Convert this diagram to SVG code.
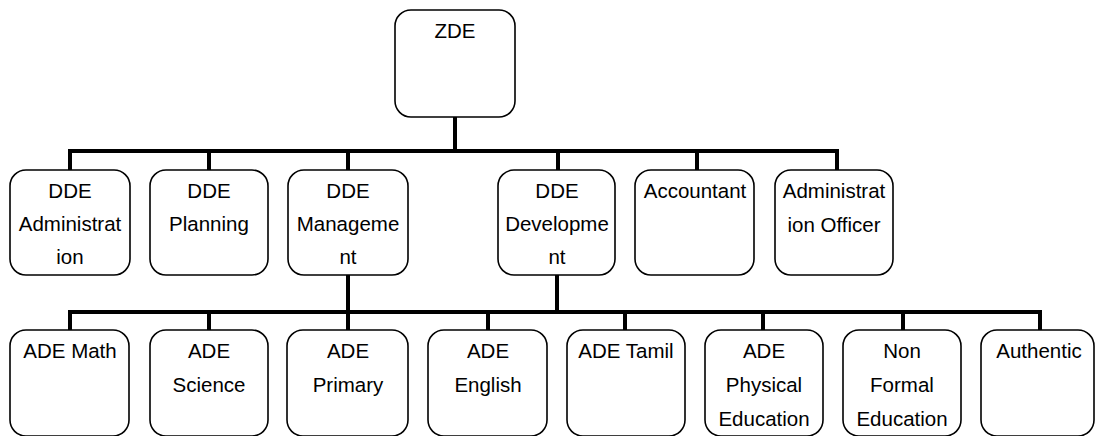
<svg xmlns="http://www.w3.org/2000/svg" width="1096" height="436" viewBox="0 0 1096 436">
<style>
.box{fill:#fff;stroke:#000;stroke-width:1.6}
.t{font-family:"Liberation Sans",Arial,sans-serif;font-size:20.5px;fill:#000;text-anchor:middle}
.c{fill:none;stroke:#000;stroke-width:4;stroke-linecap:square}
</style>
<rect width="1096" height="436" fill="#fff"/>
<g id="connectors">
<path class="c" d="M455 117V151M70 170V151H837V170M209 151V170M348 151V170M558 151V170M697 151V170"/>
<path class="c" d="M348 275V312M557 275V312M70 330V312H1040V330M209 312V330M348 312V330M488 312V330M625 312V330M763 312V330M903 312V330"/>
</g>
<g id="zde"><rect class="box" x="395" y="10" width="120" height="107" rx="16"/><text class="t" x="455" y="38">ZDE</text></g>
<g id="dde-admin"><rect class="box" x="10" y="170" width="120" height="105" rx="16"/><text class="t" x="70" y="198">DDE</text><text class="t" x="70" y="231">Administrat</text><text class="t" x="70" y="264">ion</text></g>
<g id="dde-planning"><rect class="box" x="150" y="170" width="118" height="105" rx="16"/><text class="t" x="209" y="198">DDE</text><text class="t" x="209" y="231">Planning</text></g>
<g id="dde-management"><rect class="box" x="288" y="170" width="120" height="105" rx="16"/><text class="t" x="348" y="198">DDE</text><text class="t" x="348" y="231">Manageme</text><text class="t" x="348" y="264">nt</text></g>
<g id="dde-development"><rect class="box" x="498" y="170" width="117" height="105" rx="16"/><text class="t" x="557" y="198">DDE</text><text class="t" x="557" y="231">Developme</text><text class="t" x="557" y="264">nt</text></g>
<g id="accountant"><rect class="box" x="635" y="170" width="119" height="105" rx="16"/><text class="t" x="695" y="198">Accountant</text></g>
<g id="admin-officer"><rect class="box" x="775" y="170" width="118" height="105" rx="16"/><text class="t" x="834" y="198">Administrat</text><text class="t" x="834" y="232">ion Officer</text></g>
<g id="ade-math"><rect class="box" x="10" y="330" width="119" height="106" rx="16"/><text class="t" x="70" y="358">ADE Math</text></g>
<g id="ade-science"><rect class="box" x="150" y="330" width="118" height="106" rx="16"/><text class="t" x="209" y="358">ADE</text><text class="t" x="209" y="392">Science</text></g>
<g id="ade-primary"><rect class="box" x="287" y="330" width="121" height="106" rx="16"/><text class="t" x="348" y="358">ADE</text><text class="t" x="348" y="392">Primary</text></g>
<g id="ade-english"><rect class="box" x="428" y="330" width="119" height="106" rx="16"/><text class="t" x="488" y="358">ADE</text><text class="t" x="488" y="392">English</text></g>
<g id="ade-tamil"><rect class="box" x="567" y="330" width="118" height="106" rx="16"/><text class="t" x="626" y="358">ADE Tamil</text></g>
<g id="ade-physical"><rect class="box" x="705" y="330" width="118" height="106" rx="16"/><text class="t" x="764" y="358">ADE</text><text class="t" x="764" y="392">Physical</text><text class="t" x="764" y="426">Education</text></g>
<g id="non-formal"><rect class="box" x="843" y="330" width="118" height="106" rx="16"/><text class="t" x="902" y="358">Non</text><text class="t" x="902" y="392">Formal</text><text class="t" x="902" y="426">Education</text></g>
<g id="authentic"><rect class="box" x="981" y="330" width="113" height="106" rx="16"/><text class="t" x="1039" y="358">Authentic</text></g>
</svg>
